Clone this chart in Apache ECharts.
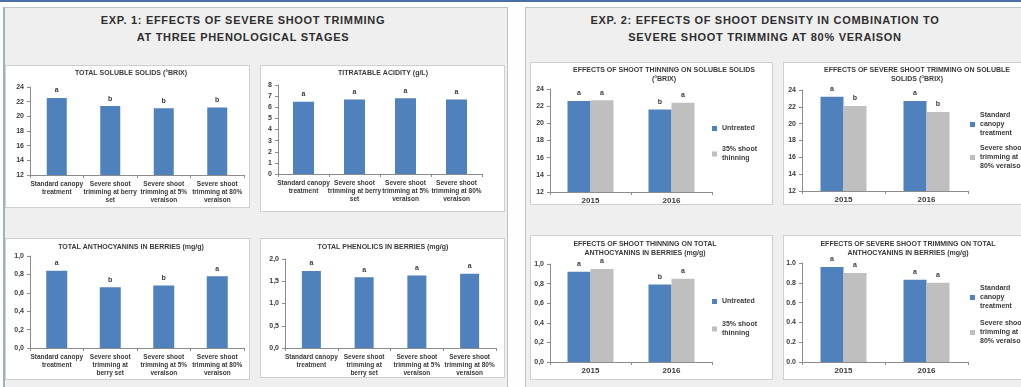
<!DOCTYPE html>
<html>
<head>
<meta charset="utf-8">
<script src="https://cdn.jsdelivr.net/npm/echarts@6/dist/echarts.min.js"></script>
<style>
  body { margin: 0; background: #fff; }
  #wrap { position: relative; width: 1021px; height: 387px; overflow: hidden; background: #fff; font-family: 'Liberation Sans', Arial, sans-serif; }
  .band { position: absolute; left: 0; top: 0; width: 1021px; height: 2px; background: #4a6ea6; }
  .panel { position: absolute; background: #efefef; border: 1px solid #b9c3d3; box-sizing: border-box; }
  .box { position: absolute; background: #fff; border: 1px solid #cfcfcf; box-sizing: border-box; }
  .ptitle { position: absolute; text-align: center; font-weight: bold; font-size: 11px; line-height: 17px; color: #2e2e2e; letter-spacing: 0.7px; }
  #chart { position: absolute; left: 0; top: 0; width: 1021px; height: 387px; }
</style>
</head>
<body>
<div id="wrap">
  <div class="band"></div>
  <div class="panel" style="left:3px;top:7px;width:505px;height:385px;border-left:2px solid #9fb0cc"></div>
  <div class="panel" style="left:525px;top:7px;width:500px;height:385px"></div>
  <div class="ptitle" style="left:3px;top:12px;width:480px">EXP. 1: EFFECTS OF SEVERE SHOOT TRIMMING<br>AT THREE PHENOLOGICAL STAGES</div>
  <div class="ptitle" style="left:525px;top:12px;width:480px">EXP. 2: EFFECTS OF SHOOT DENSITY IN COMBINATION TO<br>SEVERE SHOOT TRIMMING AT 80% VERAISON</div>
  <div class="box" style="left:5px;top:65px;width:245px;height:143px"></div>
  <div class="box" style="left:260px;top:65px;width:245px;height:147px"></div>
  <div class="box" style="left:5px;top:238px;width:245px;height:142px"></div>
  <div class="box" style="left:260px;top:238px;width:245px;height:140px"></div>
  <div class="box" style="left:530px;top:62px;width:243px;height:143px"></div>
  <div class="box" style="left:783px;top:62px;width:245px;height:143px"></div>
  <div class="box" style="left:530px;top:235px;width:243px;height:145px"></div>
  <div class="box" style="left:783px;top:235px;width:245px;height:145px"></div>
  <div id="chart"></div>
</div>
<script>
// ---- data ----
var exp1LabelsTop = ['Standard canopy\ntreatment', 'Severe shoot\ntrimming at berry\nset', 'Severe shoot\ntrimming at 5%\nveraison', 'Severe shoot\ntrimming at 80%\nveraison']
var exp1LabelsBottom = ['Standard canopy\ntreatment', 'Severe shoot\ntrimming at\nberry set', 'Severe shoot\ntrimming at 5%\nveraison', 'Severe shoot\ntrimming at 80%\nveraison']

var tssExp1 = [22.5, 21.4, 21.1, 21.2]
var tssExp1Letters = ['a', 'b', 'b', 'b']
var acidityExp1 = [6.5, 6.7, 6.8, 6.7]
var acidityExp1Letters = ['a', 'a', 'a', 'a']
var anthoExp1 = [0.84, 0.66, 0.68, 0.78]
var anthoExp1Letters = ['a', 'b', 'b', 'a']
var phenolicsExp1 = [1.73, 1.59, 1.63, 1.67]
var phenolicsExp1Letters = ['a', 'a', 'a', 'a']

var years = ['2015', '2016']
var thinNames = ['Untreated', '35% shoot\nthinning']
var trimNames = ['Standard\ncanopy\ntreatment', 'Severe shoot\ntrimming at\n80% veraison']

var thinTssUntreated = [22.6, 21.6]
var thinTssThinned = [22.7, 22.4]
var thinTssLetters = [['a', 'b'], ['a', 'a']]
var trimTssStandard = [23.2, 22.7]
var trimTssSevere = [22.1, 21.4]
var trimTssLetters = [['a', 'a'], ['b', 'b']]
var thinAnthoUntreated = [0.92, 0.79]
var thinAnthoThinned = [0.95, 0.85]
var thinAnthoLetters = [['a', 'b'], ['a', 'a']]
var trimAnthoStandard = [0.96, 0.83]
var trimAnthoSevere = [0.90, 0.80]
var trimAnthoLetters = [['a', 'a'], ['a', 'a']]

// ---- styling ----
var FONT = "'Liberation Sans', Arial, sans-serif"
var TXT = '#3a3a3a'
var BLUE = '#4f81bd'
var GREY = '#bfbfbf'
var AXIS = '#8c8c8c'

var titles = [], grids = [], xAxes = [], yAxes = [], series = [], legends = []

function addTitle (text, x, y) {
  titles.push({
    text: text, left: x, top: y, textAlign: 'center', padding: 0,
    textStyle: { fontFamily: FONT, fontSize: 7, fontWeight: 'bold', color: TXT, lineHeight: 9 }
  })
}

function addAxes (grid, cats, catSize, min, max, step, fmt) {
  var gi = grids.length
  grids.push({ left: grid[0], top: grid[1], width: grid[2], height: grid[3] })
  xAxes.push({
    type: 'category', gridIndex: gi, data: cats,
    axisLine: { lineStyle: { color: AXIS } },
    axisTick: { show: true, length: 3, lineStyle: { color: AXIS } },
    axisLabel: { interval: 0, fontFamily: FONT, fontSize: catSize, fontWeight: 'bold', color: TXT, lineHeight: 8, margin: 5 }
  })
  yAxes.push({
    type: 'value', gridIndex: gi, min: min, max: max, interval: step,
    axisLine: { show: true, lineStyle: { color: AXIS } },
    axisTick: { show: true, length: 3, lineStyle: { color: AXIS } },
    splitLine: { show: false },
    axisLabel: { fontFamily: FONT, fontSize: 7, fontWeight: 'bold', color: TXT, margin: 6, formatter: fmt }
  })
  return gi
}

function barSeries (gi, name, values, letters, color, width) {
  return {
    type: 'bar', name: name, xAxisIndex: gi, yAxisIndex: gi, data: values,
    barWidth: width, barGap: '0%',
    itemStyle: { color: color },
    label: {
      show: true, position: 'top', distance: 4,
      fontFamily: FONT, fontSize: 7, fontWeight: 'bold', color: TXT,
      formatter: function (p) { return letters[p.dataIndex] }
    }
  }
}

function addLegend (names, x, y, gap) {
  legends.push({
    data: names, orient: 'vertical', left: x, top: y, itemGap: gap,
    itemWidth: 5, itemHeight: 5, icon: 'rect', padding: 0, selectedMode: false,
    textStyle: { fontFamily: FONT, fontSize: 7, fontWeight: 'bold', color: TXT, lineHeight: 9 }
  })
}

function intFmt (v) { return String(v) }
function commaFmt (v) { return v.toFixed(1).replace('.', ',') }
function dotFmt (v) { return v.toFixed(1) }

// ---- exp 1 ----
var g
addTitle('TOTAL SOLUBLE SOLIDS (°BRIX)', 131, 69)
g = addAxes([30, 87, 214, 88], exp1LabelsTop, 6.5, 12, 24, 2, intFmt)
series.push(barSeries(g, 'tss1', tssExp1, tssExp1Letters, BLUE, 20))

addTitle('TITRATABLE ACIDITY (g/L)', 383, 69)
g = addAxes([278, 85, 204, 89], exp1LabelsTop, 6.5, 0, 8, 1, intFmt)
series.push(barSeries(g, 'ta1', acidityExp1, acidityExp1Letters, BLUE, 21))

addTitle('TOTAL ANTHOCYANINS IN BERRIES (mg/g)', 131, 243)
g = addAxes([30, 256, 214, 92], exp1LabelsBottom, 6.5, 0, 1, 0.2, commaFmt)
series.push(barSeries(g, 'an1', anthoExp1, anthoExp1Letters, BLUE, 21))

addTitle('TOTAL PHENOLICS IN BERRIES (mg/g)', 383, 243)
g = addAxes([285, 259, 211, 89], exp1LabelsBottom, 6.5, 0, 2, 0.5, commaFmt)
series.push(barSeries(g, 'ph1', phenolicsExp1, phenolicsExp1Letters, BLUE, 19))

// ---- exp 2 ----
addTitle('EFFECTS OF SHOOT THINNING ON SOLUBLE SOLIDS\n(°BRIX)', 664, 66)
g = addAxes([550, 89, 162, 103], years, 8, 12, 24, 2, intFmt)
series.push(barSeries(g, thinNames[0], thinTssUntreated, thinTssLetters[0], BLUE, 23))
series.push(barSeries(g, thinNames[1], thinTssThinned, thinTssLetters[1], GREY, 23))
addLegend(thinNames, 712, 124, 12)

addTitle('EFFECTS OF SEVERE SHOOT TRIMMING ON SOLUBLE\nSOLIDS (°BRIX)', 917, 66)
g = addAxes([802, 90, 166, 101], years, 8, 12, 24, 2, intFmt)
series.push(barSeries(g, trimNames[0], trimTssStandard, trimTssLetters[0], BLUE, 23))
series.push(barSeries(g, trimNames[1], trimTssSevere, trimTssLetters[1], GREY, 23))
addLegend(trimNames, 970, 111, 6)

addTitle('EFFECTS OF SHOOT THINNING ON TOTAL\nANTHOCYANINS IN BERRIES (mg/g)', 645, 240)
g = addAxes([550, 264, 162, 98], years, 8, 0, 1, 0.2, commaFmt)
series.push(barSeries(g, thinNames[0], thinAnthoUntreated, thinAnthoLetters[0], BLUE, 23))
series.push(barSeries(g, thinNames[1], thinAnthoThinned, thinAnthoLetters[1], GREY, 23))
addLegend(thinNames, 712, 297, 14)

addTitle('EFFECTS OF SEVERE SHOOT TRIMMING ON TOTAL\nANTHOCYANINS IN BERRIES (mg/g)', 908, 240)
g = addAxes([802, 263, 166, 99], years, 8, 0, 1, 0.2, dotFmt)
series.push(barSeries(g, trimNames[0], trimAnthoStandard, trimAnthoLetters[0], BLUE, 23))
series.push(barSeries(g, trimNames[1], trimAnthoSevere, trimAnthoLetters[1], GREY, 23))
addLegend(trimNames, 970, 284, 8)

var chart = echarts.init(document.getElementById('chart'), null, { renderer: 'canvas' })
chart.setOption({
  animation: false,
  title: titles,
  grid: grids,
  xAxis: xAxes,
  yAxis: yAxes,
  legend: legends,
  series: series
})
</script>
</body>
</html>
